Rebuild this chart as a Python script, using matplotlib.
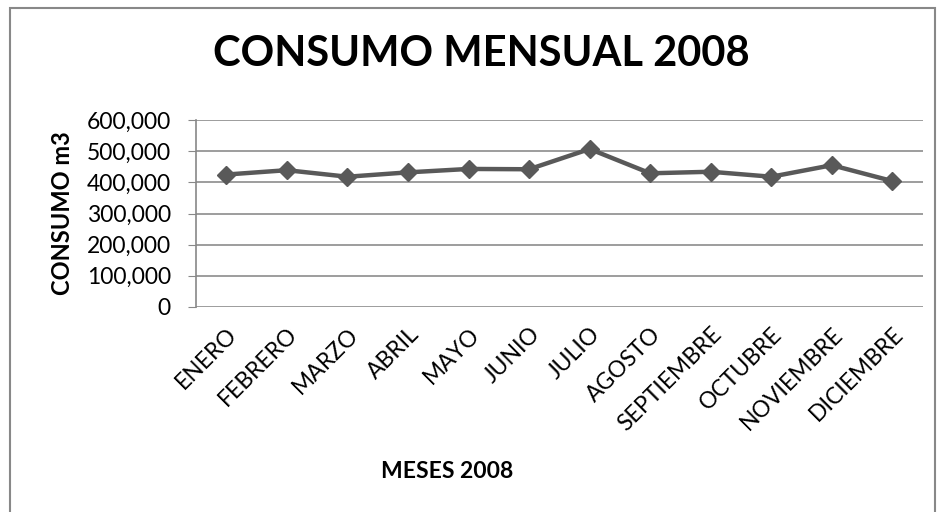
import matplotlib.pyplot as plt
from matplotlib.ticker import FuncFormatter
from matplotlib.patches import Rectangle

# Monthly consumption values
meses = ['ENERO', 'FEBRERO', 'MARZO', 'ABRIL', 'MAYO', 'JUNIO', 'JULIO',
         'AGOSTO', 'SEPTIEMBRE', 'OCTUBRE', 'NOVIEMBRE', 'DICIEMBRE']
consumo = [425000, 439000, 418000, 432000, 443000, 442000, 507000,
           429000, 434000, 418000, 455000, 404000]
y_ticks = [0, 100000, 200000, 300000, 400000, 500000, 600000]

plt.rcParams['font.family'] = ['Lato', 'DejaVu Sans']

fig = plt.figure(figsize=(9.39, 5.12), dpi=100)
ax = fig.add_axes([0.2087, 0.4004, 0.774, 0.3652])

x = range(len(meses))
ax.plot(x, consumo, color='#595959', linewidth=3.2, marker='D', markersize=9,
        markeredgecolor='#595959', markerfacecolor='#595959', zorder=3)

ax.set_xlim(-0.5, len(meses) - 0.5)
ax.set_ylim(0, 600000)
ax.set_yticks(y_ticks)
ax.yaxis.set_major_formatter(FuncFormatter(lambda v, p: f'{int(v):,}'))
ax.tick_params(axis='y', labelsize=16.5, length=6, color='#888888', pad=12)
ax.set_xticks(list(x))
ax.set_xticklabels(meses, rotation=45, ha='right', va='top',
                   rotation_mode='anchor', fontsize=16.5)
ax.tick_params(axis='x', length=0, pad=12)

ax.grid(axis='y', color='#8c8c8c', linewidth=1.2)
ax.set_axisbelow(True)
for s in ['top', 'right', 'bottom']:
    ax.spines[s].set_visible(False)
ax.spines['left'].set_color('#888888')
ax.spines['left'].set_linewidth(1.2)

ax.set_ylabel('CONSUMO m3', fontsize=17, fontweight='bold', labelpad=9)
fig.text(0.476, 0.079, 'MESES 2008', fontsize=16.5, fontweight='bold',
         ha='center', va='center')
fig.text(0.513, 0.894, 'CONSUMO MENSUAL 2008', fontsize=30, fontweight='bold',
         ha='center', va='center')

# outer chart border
fig.patches.append(Rectangle((0.011, -0.05), 0.985, 1.034, transform=fig.transFigure,
                             fill=False, edgecolor='#888888', linewidth=1.5))

fig.savefig('out.png', dpi=100)
